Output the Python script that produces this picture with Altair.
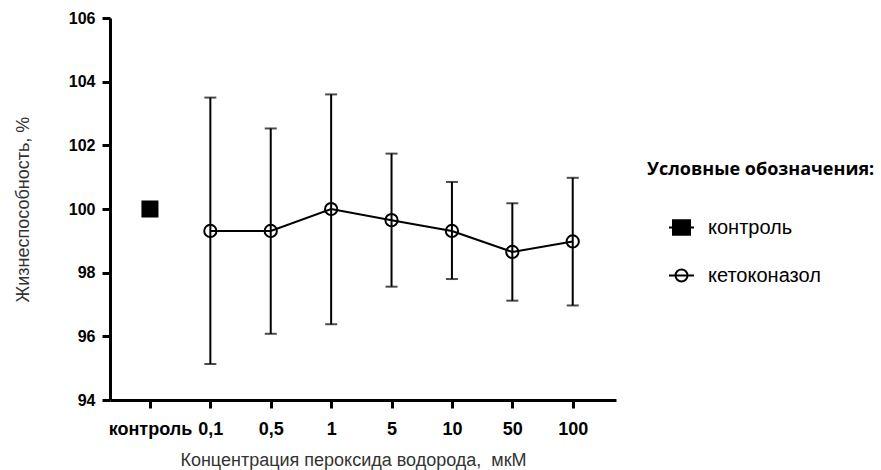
import altair as alt
import pandas as pd

categories = ["контроль", "0,1", "0,5", "1", "5", "10", "50", "100"]
conc = ["0,1", "0,5", "1", "5", "10", "50", "100"]
mean = [99.31, 99.31, 100.0, 99.65, 99.31, 98.65, 98.98]
upper = [103.5, 102.53, 103.6, 101.74, 100.85, 100.18, 100.98]
lower = [95.13, 96.08, 96.38, 97.56, 97.8, 97.12, 96.97]
control_cat = ["контроль"]
control_val = [100.0]
groups = ["контроль", "кетоконазол"]

keto = pd.DataFrame({"c": conc, "m": mean, "hi": upper, "lo": lower})
ctrl = pd.DataFrame({"c": control_cat, "m": control_val})
leg = pd.DataFrame({"c": control_cat * 2, "m": [200.0, 200.0], "g": groups})

FONT = "Liberation Sans"

x = alt.X(
    "c:N",
    sort=categories,
    scale=alt.Scale(type="point", domain=categories, padding=0.689, align=0.48),
    axis=alt.Axis(
        title="Концентрация пероксида водорода,\u00a0 мкМ",
        titleX=243,
        labelAngle=0,
        labelFont=FONT,
        labelFontSize=18,
        labelFontWeight="bold",
        labelColor="black",
        labelPadding=12,
        titleFont=FONT,
        titleFontSize=18,
        titleFontWeight="normal",
        titleColor="#333333",
        titlePadding=13,
        domainColor="black",
        domainWidth=3,
        tickColor="black",
        tickWidth=3,
        tickSize=8,
        grid=False,
    ),
)

yscale = alt.Scale(domain=[94, 106], nice=False, zero=False)
yaxis = alt.Axis(
    title="Жизнеспособность, %",
    values=[94, 96, 98, 100, 102, 104, 106],
    labelFont=FONT,
    labelFontSize=16,
    labelFontWeight="bold",
    labelColor="black",
    labelPadding=7,
    titleFont=FONT,
    titleFontSize=18,
    titleFontWeight="normal",
    titleColor="#333333",
    titlePadding=36,
    domainColor="black",
    domainWidth=3,
    tickColor="black",
    tickWidth=3,
    tickSize=8,
    grid=False,
)

base = alt.Chart(keto)

rules = base.mark_rule(color="black", strokeWidth=2).encode(
    x=x, y=alt.Y("lo:Q", scale=yscale, axis=yaxis), y2="hi:Q"
)
cap_hi = base.mark_tick(color="black", thickness=2, size=12, orient="horizontal").encode(
    x=x, y=alt.Y("hi:Q", scale=yscale)
)
cap_lo = base.mark_tick(color="black", thickness=2, size=12, orient="horizontal").encode(
    x=x, y=alt.Y("lo:Q", scale=yscale)
)
line = base.mark_line(color="black", strokeWidth=2).encode(
    x=x, y=alt.Y("m:Q", scale=yscale)
)
circles = base.mark_point(
    shape="circle", filled=False, size=150, strokeWidth=2, color="black", opacity=1
).encode(x=x, y=alt.Y("m:Q", scale=yscale))

square = alt.Chart(ctrl).mark_point(
    shape="square", filled=True, size=290, color="black", opacity=1
).encode(x=x, y=alt.Y("m:Q", scale=yscale))

sq_path = "M-1,0H-0.68M0.68,0H1M-0.68,-0.58H0.68V0.58H-0.68Z"
ci_path = "M-0.48,0A0.48,0.48 0 1,1 0.48,0A0.48,0.48 0 1,1 -0.48,0ZM-1,0H1"

legend = alt.Legend(
    title="Условные обозначения:",
    orient="none",
    legendX=537,
    legendY=143,
    titleFont="Open Sans",
    titleFontSize=18,
    titleFontWeight="bold",
    titleColor="black",
    titleLimit=400,
    titlePadding=35,
    labelFont=FONT,
    labelFontSize=20,
    labelColor="black",
    labelLimit=300,
    labelOffset=13,
    symbolOffset=21,
    symbolSize=625,
    symbolStrokeWidth=2,
    symbolStrokeColor="black",
    rowPadding=23,
)

legend_layer = alt.Chart(leg).mark_point(
    clip=True, size=625, strokeWidth=2, opacity=1
).encode(
    x=x,
    y=alt.Y("m:Q", scale=yscale),
    stroke=alt.Stroke("g:N", sort=groups, scale=alt.Scale(domain=groups, range=["black", "black"]), legend=legend),
    shape=alt.Shape("g:N", sort=groups, scale=alt.Scale(domain=groups, range=[sq_path, ci_path]), legend=legend),
    fill=alt.Fill("g:N", sort=groups, scale=alt.Scale(domain=groups, range=["black", "white"]), legend=legend),
)

chart = (
    alt.layer(rules, cap_hi, cap_lo, line, circles, square, legend_layer)
    .properties(
        width=506,
        height=382,
        autosize=alt.AutoSizeParams(type="none"),
        padding={"left": 110, "top": 18, "right": 265, "bottom": 70},
        background="white",
    )
    .configure_view(stroke=None)
)

chart.save("out.html", embed_options={"renderer": "svg", "actions": False})
